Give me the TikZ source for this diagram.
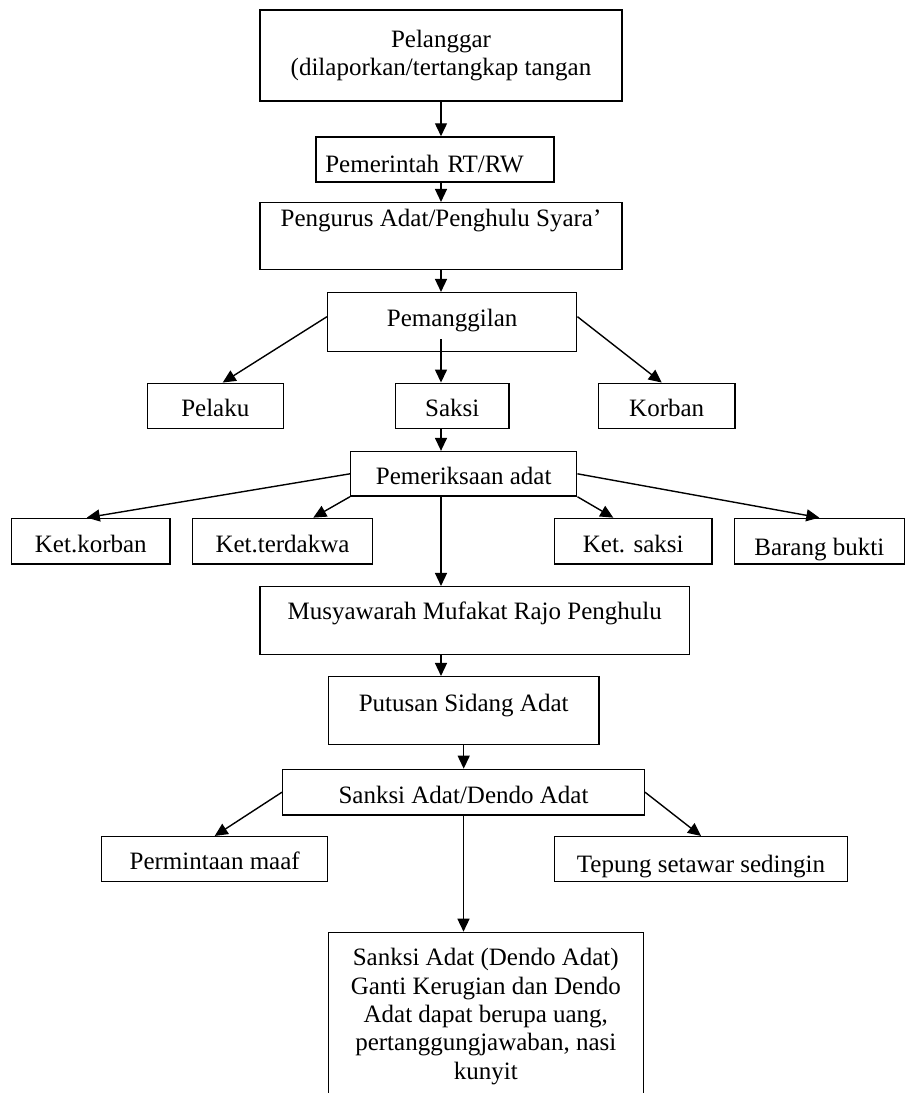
\documentclass[tikz,border=0pt]{standalone}
\usepackage{fontspec}
\setmainfont{Liberation Serif}
\usetikzlibrary{arrows.meta,calc}

\begin{document}
\begin{tikzpicture}[
    x=0.5pt, y=-0.5pt,
    box/.style={
        draw,
        line width=0.75pt,
        fill=white,
        inner sep=0pt,
        align=center,
        font=\fontsize{12.5pt}{14.15pt}\selectfont
    },
    smallbox/.style={
        box,
        text height=16.5pt,
        text depth=6pt
    },
    ketbox/.style={
        box,
        text height=16.8pt,
        text depth=6pt
    },
    arrow/.style={-{Triangle[length=6.5pt,width=6pt]}, line width=0.7pt}
]
\useasboundingbox (0,0) rectangle (905,1093);
\clip (0,0) rectangle (905,1093);

\node[box, minimum width=181pt, minimum height=45.5pt] (pelanggar) at (441,55.5) {Pelanggar\\(dilaporkan/tertangkap tangan};
\node[box, text height=17.5pt, text depth=5pt, text width=109.7pt, inner xsep=4.65pt, align=left] (pemerintah) at (435,159.5) {Pemerintah RT/RW};
\node[box, minimum width=181pt, text height=11.8pt, text depth=21.5pt] (pengurus) at (441,236) {Pengurus Adat/Penghulu Syara’};
\node[box, minimum width=124.5pt, text height=16.7pt, text depth=12.8pt] (pemanggilan) at (452.2,322.2) {Pemanggilan};
\node[smallbox, minimum width=68pt] (pelaku) at (215.3,405.8) {Pelaku};
\node[smallbox, minimum width=56.7pt] (saksi) at (452.3,405.8) {Saksi};
\node[smallbox, minimum width=68.3pt] (korban) at (666.7,405.8) {Korban};
\node[box, minimum width=113pt, text height=16.2pt, text depth=6pt] (pemeriksaan) at (463.7,473.8) {Pemeriksaan adat};
\node[ketbox, minimum width=79.2pt] (ketkorban) at (90.8,541.2) {Ket.korban};
\node[ketbox, minimum width=90.2pt] (ketterdakwa) at (282.5,541.2) {Ket.terdakwa};
\node[ketbox, minimum width=78.8pt] (ketsaksi) at (633.2,541.2) {Ket. saksi};
\node[ketbox, minimum width=85pt, text height=18.3pt, text depth=4.5pt] (barangbukti) at (819.3,541.2) {Barang bukti};
\node[box, minimum width=214.7pt, text height=16.5pt, text depth=17.3pt] (musyawarah) at (474.7,620.5) {Musyawarah Mufakat Rajo Penghulu};
\node[box, minimum width=135.3pt, text height=17.3pt, text depth=16.5pt] (putusan) at (463.7,710.5) {Putusan Sidang Adat};
\node[ketbox, minimum width=180.8pt] (sanksi) at (463.5,792.2) {Sanksi Adat/Dendo Adat};
\node[smallbox, minimum width=113pt] (maaf) at (214.7,859.2) {Permintaan maaf};
\node[smallbox, minimum width=146.7pt, text height=18pt, text depth=4.5pt] (tepung) at (701,859.2) {Tepung setawar sedingin};
\node[box, anchor=north, minimum width=157.5pt, inner ysep=8pt] (dendo) at (485.8,931.7) {Sanksi Adat (Dendo Adat)\\Ganti Kerugian dan Dendo\\Adat dapat berupa uang,\\pertanggungjawaban, nasi\\kunyit};

\draw[arrow] (pelanggar.south) -- (pelanggar.south |- pemerintah.north);
\draw[arrow] (pemerintah.south -| pengurus.north) -- (pengurus.north);
\draw[arrow] (pengurus.south) -- (pengurus.south |- pemanggilan.north);
\draw[arrow] ($(pemanggilan.west)+(0,-5.5)$) -- ($(pelaku.north)+(7.4,0)$);
\draw[arrow] ($(pemanggilan.south -| pengurus.south)+(0,-13.4)$) -- (pengurus.south |- saksi.north);
\draw[arrow] ($(pemanggilan.east)+(0,-5.5)$) -- ($(korban.north)+(-5,0)$);
\draw[arrow] (saksi.south -| pengurus.south) -- (pengurus.south |- pemeriksaan.north);
\draw[arrow] (pemeriksaan.west) -- ($(ketkorban.north)+(-4,0)$);
\draw[arrow] (pemeriksaan.south west) -- ($(ketterdakwa.north)+(30.8,0)$);
\draw[arrow] (pemeriksaan.south east) -- ($(ketsaksi.north)+(-19.9,0)$);
\draw[arrow] (pemeriksaan.east) -- (barangbukti.north);
\draw[arrow] (pemeriksaan.south -| pengurus.south) -- (pengurus.south |- musyawarah.north);
\draw[arrow] (musyawarah.south -| pengurus.south) -- (pengurus.south |- putusan.north);
\draw[arrow] (putusan.south) -- (putusan.south |- sanksi.north);
\draw[arrow] (sanksi.west) -- (maaf.north);
\draw[arrow] (sanksi.east) -- (tepung.north);
\draw[arrow] (sanksi.south) -- (sanksi.south |- dendo.north);
\end{tikzpicture}
\end{document}
